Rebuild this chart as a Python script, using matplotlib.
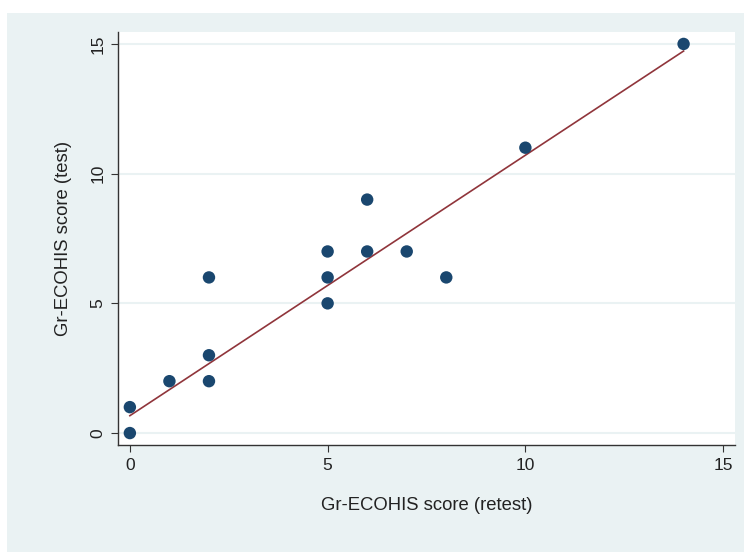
import numpy as np
import matplotlib.pyplot as plt
from matplotlib.patches import Rectangle

plt.rcParams['font.family'] = ['Liberation Sans', 'DejaVu Sans']

# Gr-ECOHIS scores (retest on x, test on y)
retest = [0, 0, 1, 2, 2, 2, 5, 5, 5, 6, 6, 7, 8, 10, 14]
test = [0, 1, 2, 2, 3, 6, 5, 6, 7, 7, 9, 7, 6, 11, 15]
# fitted line as drawn in the figure (data has overlapping points)
fit_intercept = 0.67
fit_slope = 1.004

ticks = [0, 5, 10, 15]

bg = '#EAF2F3'
navy = '#1A476F'
maroon = '#90353B'

fig = plt.figure(figsize=(7.44, 5.52), dpi=100)
fig.patch.set_facecolor('white')
fig.patches.append(Rectangle((7 / 744, 0), 1 - 7 / 744, (552 - 13) / 552,
                             transform=fig.transFigure, facecolor=bg,
                             edgecolor='none', zorder=-10))

ax = fig.add_axes([118 / 744, 107 / 552, 617 / 744, 413 / 552])
ax.set_zorder(5)
ax.set_facecolor('white')

for t in ticks:
    ax.axhline(t, color=bg, linewidth=1.5, zorder=1)

xs = np.array([min(retest), max(retest)])
ax.plot(xs, fit_intercept + fit_slope * xs, color=maroon, linewidth=1.2, zorder=2)
ax.scatter(retest, test, s=80, color=navy, edgecolors='none', zorder=3)

ax.set_xlim(-0.3, 15.3)
ax.set_ylim(-0.46, 15.46)
ax.set_xticks(ticks)
ax.set_yticks(ticks)
ax.tick_params(axis='both', labelsize=12.5, length=5, width=0.8, color='#333333',
               labelcolor='#222222', pad=4)
for lab in ax.get_yticklabels():
    lab.set_rotation(90)
    lab.set_va('center')

for s in ['top', 'right']:
    ax.spines[s].set_visible(False)
for s in ['left', 'bottom']:
    ax.spines[s].set_color('#333333')
    ax.spines[s].set_linewidth(1.0)

ax.set_xlabel('Gr-ECOHIS score (retest)', fontsize=13.3, color='#222222', labelpad=18)
ax.set_ylabel('Gr-ECOHIS score (test)', fontsize=13.3, color='#222222', labelpad=13)

fig.savefig('out.png', dpi=100)
